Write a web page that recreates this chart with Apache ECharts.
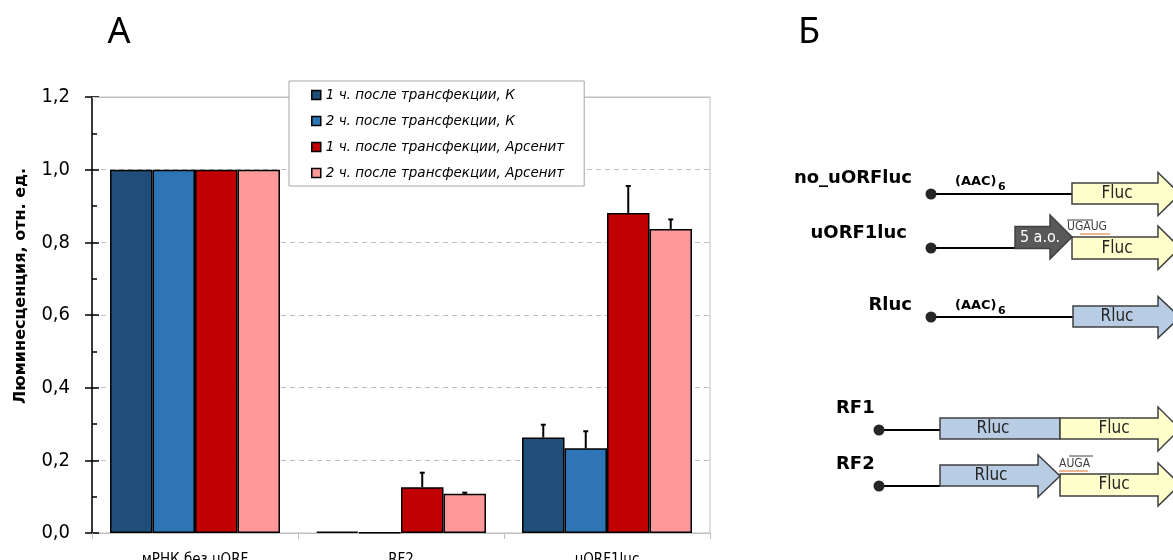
<!DOCTYPE html>
<html><head><meta charset="utf-8">
<script src="https://cdn.jsdelivr.net/npm/echarts@6/dist/echarts.min.js"></script>
<style>html,body{margin:0;padding:0;background:#fff}#c{width:1173px;height:560px}</style>
</head><body><div id="c"></div>
<script>
// ---- data ----
const categories = ['мРНК без uORF', 'RF2', 'uORF1luc'];
const seriesNames = ['1 ч. после трансфекции, К', '2 ч. после трансфекции, К', '1 ч. после трансфекции, Арсенит', '2 ч. после трансфекции, Арсенит'];
const k1h = [1.0, 0.004, 0.263];
const k2h = [1.0, 0.002, 0.233];
const ars1h = [1.0, 0.126, 0.881];
const ars2h = [1.0, 0.108, 0.837];
const k1hErr = [0, 0, 0.035];
const k2hErr = [0, 0, 0.047];
const ars1hErr = [0, 0.040, 0.074];
const ars2hErr = [0, 0.003, 0.026];
const yMin = 0, yMax = 1.2, yStep = 0.2;

const values = [k1h, k2h, ars1h, ars2h];
const errs = [k1hErr, k2hErr, ars1hErr, ars2hErr];
const colors = ['#1F4E79', '#2E75B6', '#C00000', '#FF9999'];
const CAT_GAP = 0.175;
const FONT = '"DejaVu Sans Condensed","DejaVu Sans",sans-serif';
const FONTW = '"DejaVu Sans",sans-serif';

const barSeries = values.map((v, i) => ({
  name: seriesNames[i], type: 'bar', data: v, yAxisIndex: 0,
  barGap: '0%', barCategoryGap: (CAT_GAP * 100) + '%',
  itemStyle: { color: colors[i], borderColor: '#000', borderWidth: 1.5 },
  z: 2
}));
// solid top border of the plot (over the dashed split line at max)
barSeries[0].markLine = {
  silent: true, symbol: 'none', label: { show: false }, animation: false, z: 1,
  lineStyle: { color: '#BFBFBF', type: 'solid', width: 1 },
  data: [{ yAxis: yMax }]
};

const errSeries = values.map((v, i) => ({
  type: 'custom', yAxisIndex: 0, z: 5, silent: true,
  data: v.map((val, j) => [j, val, errs[i][j]]),
  renderItem: function (params, api) {
    const cat = api.value(0), val = api.value(1), e = api.value(2);
    if (!e) return null;
    const catW = api.size([1, 0])[0];
    const barW = catW * (1 - CAT_GAP) / 4;
    const cx = api.coord([cat, 0])[0] + (i - 1.5) * barW;
    const yb = api.coord([cat, val])[1];
    const yt = api.coord([cat, val + e])[1];
    return { type: 'group', children: [
      { type: 'line', shape: { x1: cx, y1: yb, x2: cx, y2: yt }, style: { stroke: '#000', lineWidth: 2 } },
      { type: 'line', shape: { x1: cx - 2.5, y1: yt, x2: cx + 2.5, y2: yt }, style: { stroke: '#000', lineWidth: 2 } }
    ]};
  }
}));

// ---- schematic (panel Б) ----
const G = [];
const STROKE = '#404040';
function arrow(x0, yt, yb, xh, ht, hb, tip, fill, z) {
  const yc = (ht + hb) / 2;
  G.push({ type: 'polygon', z: z || 10, shape: { points: [[x0, yt], [xh, yt], [xh, ht], [tip, yc], [xh, hb], [xh, yb], [x0, yb]] },
    style: { fill: fill, stroke: STROKE, lineWidth: 1.5 } });
}
function rect(x, y, w, h, fill) {
  G.push({ type: 'rect', z: 10, shape: { x: x, y: y, width: w, height: h }, style: { fill: fill, stroke: STROKE, lineWidth: 1.5 } });
}
function txt(x, y, s, font, fill, align, z) {
  G.push({ type: 'text', z: z || 20, x: x, y: y, style: { text: s, font: font, fill: fill || '#000', align: align || 'center', verticalAlign: 'middle' } });
}
function line(x1, y1, x2, y2, stroke, w) {
  G.push({ type: 'line', z: 8, shape: { x1: x1, y1: y1, x2: x2, y2: y2 }, style: { stroke: stroke || '#000', lineWidth: w || 2 } });
}
function dot(cx, cy) {
  G.push({ type: 'circle', z: 12, shape: { cx: cx, cy: cy, r: 5.5 }, style: { fill: '#262626' } });
}
function aac(x, y) {
  txt(x, y, '(AAC)', 'bold 13px ' + FONTW, '#000', 'left');
  txt(x + 43, y + 5, '6', 'bold 11px ' + FONTW, '#000', 'left');
}
const YEL = '#FFFFCC', BLU = '#B8CCE4', GRY = '#595959';
const LBL = 'bold 18px ' + FONTW;
const BOX = '17px ' + FONT;
const SMALL = '12px ' + FONT;

// panel letters
txt(119, 33, 'А', '36px "Noto Sans",sans-serif', '#000', 'center');
txt(809, 33, 'Б', '36px "Noto Sans",sans-serif', '#000', 'center');

// no_uORFluc
txt(912, 178, 'no_uORFluc', LBL, '#000', 'right');
line(931, 194, 1072, 194); dot(931, 194); aac(955, 182);
arrow(1072, 183, 204, 1158, 172.5, 215.5, 1180, YEL);
txt(1117, 194, 'Fluc', BOX, '#262626');

// uORF1luc
txt(907, 233, 'uORF1luc', LBL, '#000', 'right');
line(931, 248, 1015, 248); dot(931, 248);
arrow(1015, 226.5, 248.5, 1050, 215, 259, 1072, GRY, 11);
txt(1040, 238, '5 a.o.', '16px ' + FONT, '#fff', 'center', 21);
arrow(1072, 237, 259, 1158, 226, 269.5, 1180, YEL);
txt(1117, 249, 'Fluc', BOX, '#262626');
txt(1067, 227, 'UGAUG', SMALL, '#404040', 'left');
line(1067, 220, 1093, 220, '#404040', 1);
line(1080, 234, 1110, 234, '#E8A070', 1.5);

// Rluc
txt(912, 305, 'Rluc', LBL, '#000', 'right');
line(931, 317, 1073, 317); dot(931, 317); aac(955, 306);
arrow(1073, 306, 327, 1158, 296.5, 338, 1180, BLU);
txt(1117, 317, 'Rluc', BOX, '#262626');

// RF1
txt(836, 408, 'RF1', LBL, '#000', 'left');
line(879, 430, 940, 430); dot(879, 430);
rect(940, 418, 120, 21, BLU);
arrow(1060, 418, 439, 1158, 407, 451, 1180, YEL);
txt(993, 429, 'Rluc', BOX, '#262626');
txt(1114, 429, 'Fluc', BOX, '#262626');

// RF2
txt(836, 464, 'RF2', LBL, '#000', 'left');
line(879, 486, 940, 486); dot(879, 486);
arrow(1060, 474, 496, 1158, 463, 506, 1180, YEL);
arrow(940, 465, 486, 1038, 455, 497, 1060, BLU, 11);
txt(991, 476, 'Rluc', BOX, '#262626');
txt(1114, 485, 'Fluc', BOX, '#262626');
txt(1059, 464, 'AUGA', SMALL, '#404040', 'left');
line(1069, 456, 1093, 456, '#404040', 1);
line(1059, 471, 1088, 471, '#E8A070', 1.5);

// y axis name
G.push({ type: 'text', z: 20, x: 21, y: 286, rotation: Math.PI / 2,
  style: { text: 'Люминесценция, отн. ед.', font: 'bold 16px ' + FONTW, fill: '#000', align: 'center', verticalAlign: 'middle' } });

const chart = echarts.init(document.getElementById('c'), null, { renderer: 'canvas' });
chart.setOption({
  animation: false,
  backgroundColor: '#fff',
  grid: { left: 92, right: 463, top: 97, bottom: 27, show: true, borderColor: '#BFBFBF', borderWidth: 1,
    containLabel: false, outerBoundsMode: 'none' },
  legend: {
    orient: 'vertical', left: 289, top: 81, data: seriesNames, z: 30,
    backgroundColor: '#fff', borderColor: '#A6A6A6', borderWidth: 1,
    padding: [6, 20, 5, 22], itemGap: 10, itemWidth: 9, itemHeight: 9, icon: 'rect',
    itemStyle: { borderColor: '#000', borderWidth: 1.5 },
    textStyle: { fontFamily: FONTW, fontStyle: 'italic', fontSize: 13.5, color: '#000', lineHeight: 16 }
  },
  xAxis: {
    type: 'category', data: categories,
    axisLine: { lineStyle: { color: '#BFBFBF', width: 1 } },
    axisTick: { show: true, length: 6, lineStyle: { color: '#BFBFBF' } },
    axisLabel: { fontFamily: FONT, fontSize: 15, color: '#000', margin: 20 },
    splitLine: { show: false }
  },
  yAxis: [{
    type: 'value', min: yMin, max: yMax, interval: yStep,
    axisLine: { show: true, lineStyle: { color: '#000', width: 1.5 } },
    axisTick: { show: true, inside: true, length: 7, lineStyle: { color: '#000', width: 1.5 } },
    minorTick: { show: true, splitNumber: 2, length: 5, lineStyle: { color: '#000', width: 1.5 } },
    axisLabel: { fontFamily: FONT, fontSize: 20, color: '#000', margin: 22,
      formatter: v => v.toFixed(1).replace('.', ',') },
    splitLine: { show: true, lineStyle: { color: '#BFBFBF', type: [5, 4], width: 1 } }
  }, {
    type: 'value', min: yMin, max: yMax, interval: yStep, position: 'left',
    axisLine: { show: false },
    axisTick: { show: true, inside: false, length: 7, lineStyle: { color: '#000', width: 1.5 } },
    axisLabel: { show: false }, splitLine: { show: false }
  }],
  series: barSeries.concat(errSeries),
  graphic: G
});
</script></body></html>
